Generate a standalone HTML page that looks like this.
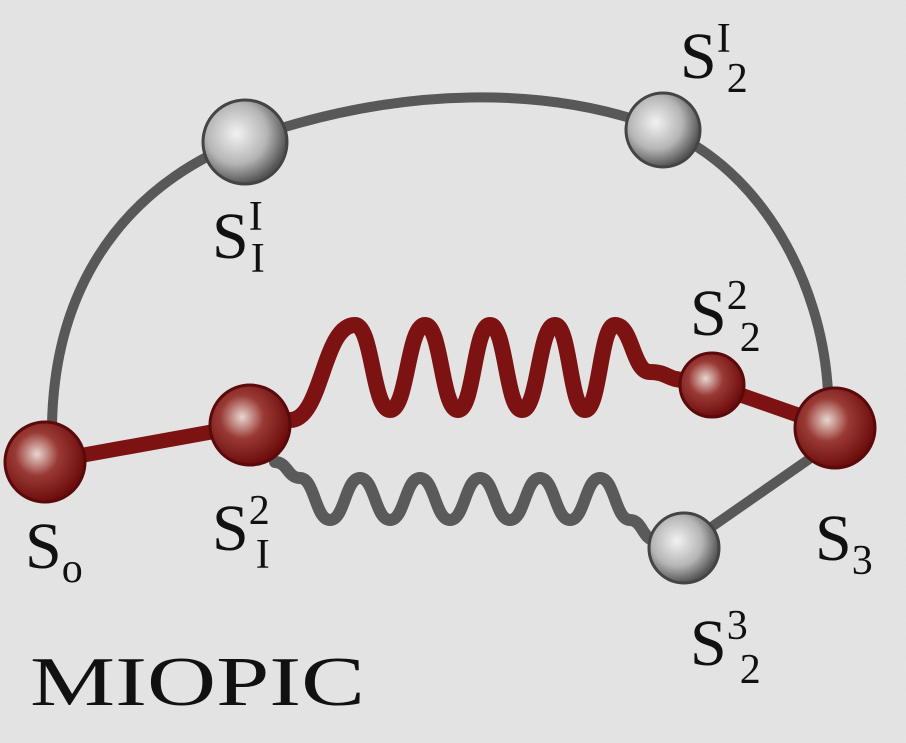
<!DOCTYPE html>
<html><head><meta charset="utf-8">
<style>
html,body{margin:0;padding:0;background:#e6e6e6;}
svg{display:block}
text{font-family:"Liberation Serif",serif;fill:#111;}
</style></head>
<body>
<svg id="s" width="906" height="743" viewBox="0 0 906 743" xmlns="http://www.w3.org/2000/svg">
<defs>
<filter id="noise"><feTurbulence type="fractalNoise" baseFrequency="0.9" numOctaves="2" seed="3"/><feColorMatrix type="matrix" values="0 0 0 0 0.5  0 0 0 0 0.5  0 0 0 0 0.5  0 0 0 0.18 0"/></filter>
<radialGradient id="gg" cx="0.4" cy="0.4" r="0.6"><stop offset="0" stop-color="#f2f2f2"/><stop offset="0.6" stop-color="#b5b5b5"/><stop offset="1" stop-color="#555"/></radialGradient>
<radialGradient id="rg" cx="0.4" cy="0.4" r="0.6"><stop offset="0" stop-color="#e9d6d0"/><stop offset="0.45" stop-color="#9a3a35"/><stop offset="1" stop-color="#6e0d0d"/></radialGradient>
</defs>
<rect width="906" height="743" fill="#e7e7e7"/>
<rect width="906" height="743" filter="url(#noise)"/>
<path d="M52,425 C55,260 150,175 245,140 C400,85 550,85 665,130 C760,170 822,280 828,392" fill="none" stroke="#585858" stroke-width="10"/>
<path d="M45,462 L250,425" stroke="#7d1212" stroke-width="15"/>
<path d="M712,385 L835,428" stroke="#7d1212" stroke-width="15"/>
<path id="redwave" fill="none" stroke="#7d1212" stroke-width="16" stroke-linecap="round"/>
<path id="graywave" fill="none" stroke="#5a5a5a" stroke-width="12" stroke-linecap="round"/>
<path d="M700,535 L815,455" stroke="#585858" stroke-width="10"/>
<g><circle cx="45" cy="462" r="40" fill="url(#rg)" stroke="#5a0a0a" stroke-width="3"/></g>
<g><circle cx="250" cy="425" r="40" fill="url(#rg)" stroke="#5a0a0a" stroke-width="3"/></g>
<g><circle cx="712" cy="385" r="32" fill="url(#rg)" stroke="#5a0a0a" stroke-width="3"/></g>
<g><circle cx="835" cy="428" r="40" fill="url(#rg)" stroke="#5a0a0a" stroke-width="3"/></g>
<g><circle cx="245" cy="142" r="42" fill="url(#gg)" stroke="#444" stroke-width="3"/></g>
<g><circle cx="663" cy="130" r="37" fill="url(#gg)" stroke="#444" stroke-width="3"/></g>
<g><circle cx="684" cy="548" r="35" fill="url(#gg)" stroke="#444" stroke-width="3"/></g>
<g font-size="66">
<text x="212" y="258">S<tspan font-size="42" dy="-28">I</tspan><tspan font-size="42" dx="-12" dy="42">I</tspan></text>
<text x="680" y="78">S<tspan font-size="42" dy="-26">I</tspan><tspan font-size="42" dx="-4" dy="40">2</tspan></text>
<text x="690" y="335">S<tspan font-size="42" dy="-26">2</tspan><tspan font-size="42" dx="-8" dy="42">2</tspan></text>
<text x="25" y="568">S<tspan font-size="42" dy="14">o</tspan></text>
<text x="212" y="550">S<tspan font-size="42" dy="-26">2</tspan><tspan font-size="42" dx="-14" dy="44">I</tspan></text>
<text x="815" y="560">S<tspan font-size="42" dy="14">3</tspan></text>
<text x="690" y="665">S<tspan font-size="42" dy="-26">3</tspan><tspan font-size="42" dx="-8" dy="44">2</tspan></text>
</g>
<text x="30" y="705" font-size="70" textLength="335" lengthAdjust="spacingAndGlyphs">MIOPIC</text>
</svg>
<script>
const redX=[290,355,390,425,458,490,522,555,585,615,650,685];
const redY=[420,325,410,325,410,325,410,325,410,325,372,380];
const grayX=[275,300,330,360,390,420,450,480,510,540,570,600,630,655];
const grayY=[462,478,520,478,520,478,520,478,520,478,520,478,520,540];
function wave(xs,ys){let d='M'+xs[0]+','+ys[0];for(let i=1;i<xs.length;i++){const mx=(xs[i-1]+xs[i])/2;d+=' C'+mx+','+ys[i-1]+' '+mx+','+ys[i]+' '+xs[i]+','+ys[i];}return d;}
document.getElementById('redwave').setAttribute('d',wave(redX,redY));
document.getElementById('graywave').setAttribute('d',wave(grayX,grayY));
</script>
</body></html>
